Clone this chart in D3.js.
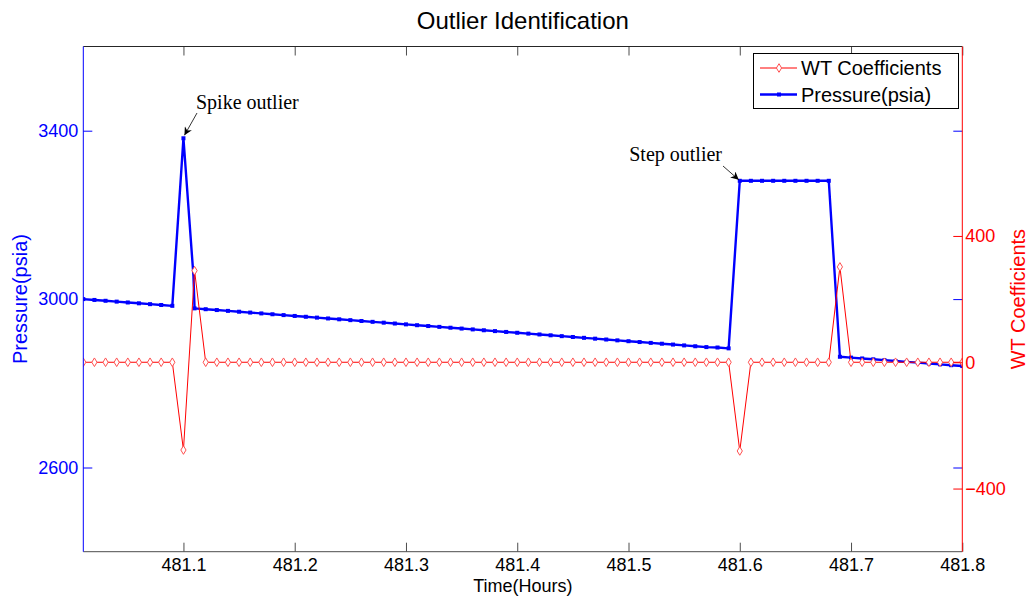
<!DOCTYPE html>
<html>
<head>
<meta charset="utf-8">
<script src="https://cdn.jsdelivr.net/npm/d3@7"></script>
<style>
  html, body { margin: 0; padding: 0; background: #fff; }
  svg { display: block; font-family: "Liberation Sans", Arial, sans-serif; }
</style>
</head>
<body>
<svg id="chart" width="1031" height="597"></svg>
<script>
// Pressure record (hours, psia)
const pressureTime = [
  481.01, 481.02, 481.03, 481.04, 481.05, 481.06, 481.07, 481.08, 481.09, 481.10,
  481.109, 481.11, 481.12, 481.13, 481.14, 481.15, 481.16, 481.17, 481.18, 481.19,
  481.20, 481.21, 481.22, 481.23, 481.24, 481.25, 481.26, 481.27, 481.28, 481.29,
  481.30, 481.31, 481.32, 481.33, 481.34, 481.35, 481.36, 481.37, 481.38, 481.39,
  481.40, 481.41, 481.42, 481.43, 481.44, 481.45, 481.46, 481.47, 481.48, 481.49,
  481.50, 481.51, 481.52, 481.53, 481.54, 481.55, 481.56, 481.57, 481.58, 481.59,
  481.60, 481.61, 481.62, 481.63, 481.64, 481.65, 481.66, 481.67, 481.68, 481.69,
  481.70, 481.71, 481.72, 481.73, 481.74, 481.75, 481.76, 481.77, 481.78, 481.79,
  481.80
];
const pressure = [
  3000, 2998, 2996, 2994, 2992, 2990, 2988, 2986, 2984, 3382,
  3055, 2978, 2976, 2974, 2972, 2970, 2968, 2966, 2964, 2962,
  2960, 2958, 2956, 2954, 2952, 2950, 2948, 2946, 2944, 2942,
  2940, 2938, 2936, 2934, 2932, 2930, 2928, 2926, 2924, 2922,
  2920, 2918, 2916, 2914, 2912, 2910, 2908, 2906, 2904, 2902,
  2900, 2898, 2896, 2894, 2892, 2890, 2888, 2886, 2885, 2883,
  3281, 3281, 3281, 3281, 3281, 3281, 3281, 3281, 3281, 2863,
  2861, 2859, 2857, 2855, 2853, 2851, 2849, 2847, 2845, 2843,
  2841
];

// Wavelet transform detail coefficients
const wtTime = [
  481.00, 481.01, 481.02, 481.03, 481.04, 481.05, 481.06, 481.07, 481.08, 481.09,
  481.10, 481.11, 481.12, 481.13, 481.14, 481.15, 481.16, 481.17, 481.18, 481.19,
  481.20, 481.21, 481.22, 481.23, 481.24, 481.25, 481.26, 481.27, 481.28, 481.29,
  481.30, 481.31, 481.32, 481.33, 481.34, 481.35, 481.36, 481.37, 481.38, 481.39,
  481.40, 481.41, 481.42, 481.43, 481.44, 481.45, 481.46, 481.47, 481.48, 481.49,
  481.50, 481.51, 481.52, 481.53, 481.54, 481.55, 481.56, 481.57, 481.58, 481.59,
  481.60, 481.61, 481.62, 481.63, 481.64, 481.65, 481.66, 481.67, 481.68, 481.69,
  481.70, 481.71, 481.72, 481.73, 481.74, 481.75, 481.76, 481.77, 481.78, 481.79,
  481.80
];
const wtCoef = [
  0, 0, 0, 0, 0, 0, 0, 0, 0, 0,
  -278, 290, 0, 0, 0, 0, 0, 0, 0, 0,
  0, 0, 0, 0, 0, 0, 0, 0, 0, 0,
  0, 0, 0, 0, 0, 0, 0, 0, 0, 0,
  0, 0, 0, 0, 0, 0, 0, 0, 0, 0,
  0, 0, 0, 0, 0, 0, 0, 0, 0, 0,
  -281, 0, 0, 0, 0, 0, 0, 0, 0, 302,
  0, 0, 0, 0, 0, 0, 0, 0, 0, 0,
  0
];

const xTicks = [481.1, 481.2, 481.3, 481.4, 481.5, 481.6, 481.7, 481.8];
const pressureTicks = [2600, 3000, 3400];
const wtTicks = [-400, 0, 400];

const xDomain = [481.01, 481.8];
const pressureDomain = [2400, 3600];
const wtDomain = [-600, 1000];

const chartTitle = "Outlier Identification";
const xLabel = "Time(Hours)";
const leftLabel = "Pressure(psia)";
const rightLabel = "WT Coefficients";
const legendLabels = ["WT Coefficients", "Pressure(psia)"];

// annotations: [label, time, value]
const notes = [
  ["Spike outlier", 481.10, 3382],
  ["Step outlier", 481.60, 3281]
];

const BLUE = "#0000ff", RED = "#ff0000", AXIS = "#4d4d4d";

const box = { left: 83.3, right: 962.3, top: 46.5, bottom: 551.7 };
const svg = d3.select("#chart");

const x = d3.scaleLinear().domain(xDomain).range([box.left, box.right]);
const yP = d3.scaleLinear().domain(pressureDomain).range([box.bottom, box.top]);
const yW = d3.scaleLinear().domain(wtDomain).range([box.bottom, box.top]);

svg.append("defs").append("clipPath").attr("id", "plotClip")
  .append("rect")
  .attr("x", box.left).attr("y", box.top)
  .attr("width", box.right - box.left).attr("height", box.bottom - box.top);

svg.append("rect")
  .attr("x", box.left).attr("y", box.top)
  .attr("width", box.right - box.left).attr("height", box.bottom - box.top)
  .attr("fill", "#fff");

const plot = svg.append("g").attr("clip-path", "url(#plotClip)");

// Pressure series
const pData = pressureTime.map((t, i) => [t, pressure[i]]);
plot.append("path")
  .datum(pData)
  .attr("fill", "none")
  .attr("stroke", BLUE)
  .attr("stroke-width", 2.4)
  .attr("stroke-linejoin", "round")
  .attr("d", d3.line().x(d => x(d[0])).y(d => yP(d[1])));
plot.append("g").selectAll("rect")
  .data(pData.filter(d => Math.abs(d[0] * 100 - Math.round(d[0] * 100)) < 1e-6))
  .join("rect")
  .attr("x", d => x(d[0]) - 2)
  .attr("y", d => yP(d[1]) - 2)
  .attr("width", 4).attr("height", 4)
  .attr("fill", BLUE);

// Wavelet coefficient series
const wData = wtTime.map((t, i) => [t, wtCoef[i]]);
plot.append("path")
  .datum(wData)
  .attr("fill", "none")
  .attr("stroke", RED)
  .attr("stroke-width", 1)
  .attr("d", d3.line().x(d => x(d[0])).y(d => yW(d[1])));

const diamond = (cx, cy) => `M${cx},${cy - 4.3}L${cx + 2.6},${cy}L${cx},${cy + 4.3}L${cx - 2.6},${cy}Z`;
plot.append("g").selectAll("path")
  .data(wData)
  .join("path")
  .attr("d", d => diamond(x(d[0]), yW(d[1])))
  .attr("fill", "#fff")
  .attr("stroke", "#ff5050")
  .attr("stroke-width", 1);

// Axes
function styleAxis(g, color, fontSize) {
  g.select(".domain").remove();
  g.selectAll(".tick line").attr("stroke", color).attr("stroke-width", 1);
  g.selectAll(".tick text").attr("fill", color)
    .attr("font-size", fontSize)
    .attr("font-family", "Liberation Sans, Arial, sans-serif");
}

// bottom
const gx = svg.append("g").attr("transform", `translate(0,${box.bottom})`)
  .call(d3.axisBottom(x).tickValues(xTicks).tickFormat(d3.format(".1f"))
    .tickSizeInner(-9).tickSizeOuter(0).tickPadding(7));
styleAxis(gx, AXIS, 18);
gx.selectAll(".tick text").attr("fill", "#000");

// top mirror ticks
const gxt = svg.append("g").attr("transform", `translate(0,${box.top})`)
  .call(d3.axisTop(x).tickValues(xTicks).tickFormat("")
    .tickSizeInner(-9).tickSizeOuter(0));
styleAxis(gxt, AXIS, 0);

// left pressure axis
const gyl = svg.append("g").attr("transform", `translate(${box.left},0)`)
  .call(d3.axisLeft(yP).tickValues(pressureTicks).tickFormat(d3.format("d"))
    .tickSizeInner(-9).tickSizeOuter(0).tickPadding(5));
styleAxis(gyl, BLUE, 18);

// right mirror of pressure ticks
const gyr1 = svg.append("g").attr("transform", `translate(${box.right},0)`)
  .call(d3.axisRight(yP).tickValues(pressureTicks).tickFormat("")
    .tickSizeInner(-9).tickSizeOuter(0));
styleAxis(gyr1, BLUE, 0);

// right coefficient axis
const gyr2 = svg.append("g").attr("transform", `translate(${box.right},0)`)
  .call(d3.axisRight(yW).tickValues(wtTicks).tickFormat(d3.format("d"))
    .tickSizeInner(-9).tickSizeOuter(0).tickPadding(3));
styleAxis(gyr2, RED, 18);

// frame lines
svg.append("line").attr("x1", box.left).attr("x2", box.right)
  .attr("y1", box.top).attr("y2", box.top).attr("stroke", "#262626");
svg.append("line").attr("x1", box.left).attr("x2", box.right)
  .attr("y1", box.bottom).attr("y2", box.bottom).attr("stroke", AXIS);
svg.append("line").attr("x1", box.left).attr("x2", box.left)
  .attr("y1", box.top).attr("y2", box.bottom).attr("stroke", BLUE);
svg.append("line").attr("x1", box.right).attr("x2", box.right)
  .attr("y1", box.top).attr("y2", box.bottom).attr("stroke", RED);

// Titles and labels
const mid = (box.left + box.right) / 2;
svg.append("text").attr("x", mid).attr("y", 29)
  .attr("text-anchor", "middle").attr("font-size", 24).attr("fill", "#000")
  .text(chartTitle);
svg.append("text").attr("x", mid).attr("y", 592)
  .attr("text-anchor", "middle").attr("font-size", 18).attr("fill", "#000")
  .text(xLabel);
svg.append("text")
  .attr("transform", `translate(27,${(box.top + box.bottom) / 2}) rotate(-90)`)
  .attr("text-anchor", "middle").attr("font-size", 20).attr("fill", BLUE)
  .text(leftLabel);
svg.append("text")
  .attr("transform", `translate(1025,${(box.top + box.bottom) / 2}) rotate(-90)`)
  .attr("text-anchor", "middle").attr("font-size", 20).attr("fill", RED)
  .text(rightLabel);

// Outlier annotations
svg.append("defs").append("marker")
  .attr("id", "arrowHead")
  .attr("viewBox", "0 0 10 10")
  .attr("refX", 10).attr("refY", 5)
  .attr("markerWidth", 10).attr("markerHeight", 8)
  .attr("markerUnits", "userSpaceOnUse")
  .attr("orient", "auto")
  .append("path").attr("d", "M0,0L10,5L0,10L3,5Z").attr("fill", "#000");

const noteOffsets = [
  { tx: 196, ty: 109, ax: 197, ay: 113, dx: 1, dy: -3, anchor: "start" },
  { tx: 722, ty: 161, ax: 723, ay: 166, dx: -1, dy: -1, anchor: "end" }
];
notes.forEach((n, i) => {
  const o = noteOffsets[i];
  const px = x(n[1]), py = yP(n[2]);
  svg.append("line")
    .attr("x1", o.ax).attr("y1", o.ay)
    .attr("x2", px + o.dx).attr("y2", py + o.dy)
    .attr("stroke", "#000").attr("stroke-width", 0.8)
    .attr("marker-end", "url(#arrowHead)");
  svg.append("text")
    .attr("x", o.tx).attr("y", o.ty)
    .attr("text-anchor", o.anchor)
    .attr("font-family", "Liberation Serif, Times New Roman, serif")
    .attr("font-size", 20).attr("fill", "#000")
    .text(n[0]);
});

// Legend
const lg = svg.append("g");
lg.append("rect")
  .attr("x", 753.5).attr("y", 53.5).attr("width", 205).attr("height", 55)
  .attr("fill", "#fff").attr("stroke", "#000").attr("stroke-width", 1);
const legendRows = [
  { label: legendLabels[0], color: RED, y: 68 },
  { label: legendLabels[1], color: BLUE, y: 94.5 }
];
legendRows.forEach((r, i) => {
  lg.append("line").attr("x1", 760).attr("x2", 797)
    .attr("y1", r.y).attr("y2", r.y)
    .attr("stroke", r.color).attr("stroke-width", i === 0 ? 1 : 2.4);
  if (i === 0) {
    lg.append("path").attr("d", diamond(779, r.y))
      .attr("fill", "#fff").attr("stroke", "#ff5050");
  } else {
    lg.append("rect").attr("x", 777).attr("y", r.y - 2)
      .attr("width", 4).attr("height", 4).attr("fill", BLUE);
  }
  lg.append("text").attr("x", 801).attr("y", r.y + 7)
    .attr("font-size", 20).attr("fill", "#000")
    .text(r.label);
});
</script>
</body>
</html>
